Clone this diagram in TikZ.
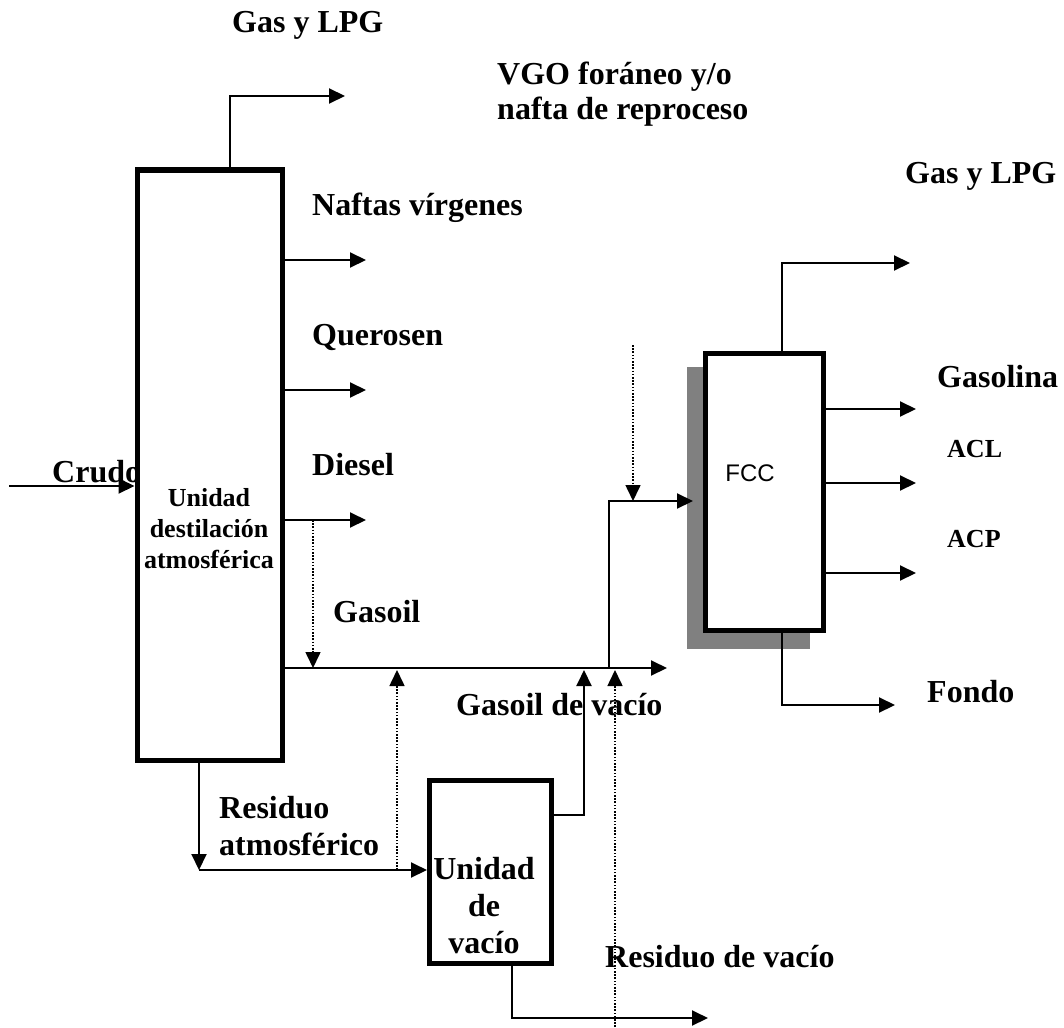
\documentclass[tikz,border=0pt]{standalone}
\usepackage{fontspec}
\setmainfont{Liberation Serif}
\setsansfont{Liberation Sans}
\usetikzlibrary{arrows.meta,positioning,calc}
\definecolor{shadowgray}{RGB}{128,128,128}

\begin{document}
\begin{tikzpicture}[x=1pt,y=-1pt,
  unit/.style={draw,line width=5pt,fill=white,inner sep=0pt},
  lbl/.style={anchor=base west,inner sep=0pt,align=left,font=\fontsize{32}{36}\selectfont\bfseries},
  sml/.style={lbl,font=\fontsize{26}{31}\selectfont\bfseries},
  a/.style={-{Triangle[length=16pt,width=15pt]},line width=2pt},
  feed/.style={a,line width=1.6pt,dash pattern=on 1.6pt off 1.6pt}]
 \useasboundingbox (0,0) rectangle (1064,1027);
 \node[unit,minimum width=145pt,minimum height=590pt] (adu) at (209.5,465) {};
 \fill[shadowgray] (687,367) rectangle (810,649);
 \node[unit,minimum width=118pt,minimum height=277pt] (fcc) at (764.5,492) {};
 \node[unit,minimum width=122pt,minimum height=183pt] (vac) at (490.5,872) {};
 \node[sml,anchor=base,align=center] (adutxt) at (209,568) {Unidad\\destilación\\atmosférica};
 \node[inner sep=0pt,font=\sffamily\fontsize{24}{28}\selectfont] (fcctxt) at (750,473) {FCC};
 \node[lbl,anchor=base,align=center,font=\fontsize{32}{37}\selectfont\bfseries] (vactxt) at (484,953) {Unidad\\de\\vacío};
 % corrientes
 \node[lbl] (gasA) at (232,33) {Gas y LPG};
 \node[lbl,font=\fontsize{32}{35}\selectfont\bfseries] (vgo) at (497,120) {VGO foráneo y/o\\nafta de reproceso};
 \node[lbl] (naftas) at (312,215) {Naftas vírgenes};
 \node[lbl] (quer) at (312,345) {Querosen};
 \node[lbl] (dies) at (312,475) {Diesel};
 \node[lbl] (crudo) at (52,482) {Crudo};
 \node[lbl] (gasoil) at (333,622) {Gasoil};
 \node[lbl] (gvac) at (456,715) {Gasoil de vacío};
 \node[lbl,font=\fontsize{32}{37}\selectfont\bfseries] (ratm) at (219,855) {Residuo\\atmosférico};
 \node[lbl] (rvac) at (605,967) {Residuo de vacío};
 \node[lbl] (gasB) at (905,183) {Gas y LPG};
 \node[lbl] (gsl) at (937,387) {Gasolina};
 \node[sml] (acl) at (947,457) {ACL};
 \node[sml] (acp) at (947,547) {ACP};
 \node[lbl] (fondo) at (927,702) {Fondo};
 \coordinate (gasAend) at (345,96);
 \coordinate (nafend) at (366,260);
 \coordinate (querend) at (366,390);
 \coordinate (diesend) at (366,520);
 \coordinate (crin) at (9,486);
 \coordinate (goend) at (667,668);
 \coordinate (feedin) at (693,501);
 \coordinate (vgotop) at (633,345);
 \coordinate (gasBend) at (910,263);
 \coordinate (gslend) at (916,409);
 \coordinate (aclend) at (916,483);
 \coordinate (acpend) at (916,573);
 \coordinate (fondoend) at (895,705);
 \coordinate (ratmdn) at (199,870);
 \coordinate (vacup) at (584,815);
 \coordinate (rvacend) at (708,1018);
 \draw[a] (adu.north -| 230,0) |- (gasAend);
 \draw[a] (adu.east |- nafend) -- (nafend);
 \draw[a] (adu.east |- querend) -- (querend);
 \draw[a] (adu.east |- diesend) -- (diesend);
 \draw[a] (crin) -- (adu.west |- crin);
 \draw[a] (adu.east |- goend) -- (goend);
 \draw[feed] (313,520) -- (313,668);
 \draw[feed] (ratmdn -| 397,0) -- (397,670);
 \draw[feed] (615,1027) -- (615,670);
 \draw[a] (vac.east |- vacup) -| (584,670);
 \draw[a] (609,668) |- (feedin);
 \draw[feed] (vgotop) -- (vgotop |- feedin);
 \draw[a] (fcc.north -| 782,0) |- (gasBend);
 \draw[a] (fcc.east |- gslend) -- (gslend);
 \draw[a] (fcc.east |- aclend) -- (aclend);
 \draw[a] (fcc.east |- acpend) -- (acpend);
 \draw[a] (fcc.south -| 782,0) |- (fondoend);
 \draw[a] (adu.south -| ratmdn) -- (ratmdn);
 \draw[a] (ratmdn) -- (vac.west |- ratmdn);
 \draw[a] (vac.south -| 512,0) |- (rvacend);
\end{tikzpicture}
\end{document}
